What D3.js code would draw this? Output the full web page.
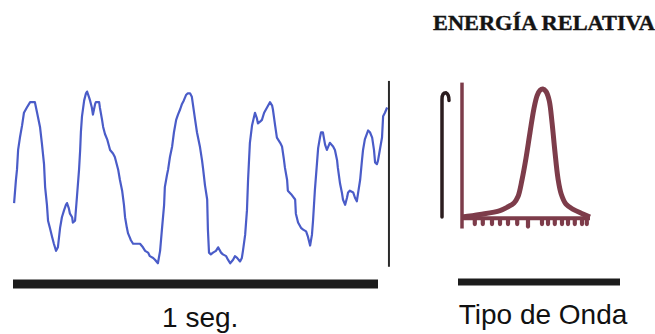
<!DOCTYPE html>
<html>
<head>
<meta charset="utf-8">
<script src="https://cdn.jsdelivr.net/npm/d3@7"></script>
<style>
  body { margin: 0; background: #fff; }
  svg { display: block; }
</style>
</head>
<body>
<div class="chart"></div>
<script>
// EEG-like trace, time in ms, amplitude in arbitrary units (0-100)
var waveTime = [
  3,8,11,14,19,25,30,38,47,55,
  60,66,74,79,85,88,93,96,101,107,
  112,118,123,129,134,140,145,148,153,156,
  162,164,170,175,181,184,186,189,195,200,
  203,208,211,216,219,225,227,236,238,244,
  247,252,258,266,274,279,288,293,299,304,
  307,312,315,321,323,329,340,348,356,362,
  370,375,384,389,397,403,408,414,416,422,
  425,430,436,441,447,452,458,463,468,474,
  479,485,490,499,504,512,518,521,526,532,
  534,537,542,548,556,562,570,575,584,589,
  595,603,608,614,622,627,630,636,641,644,
  649,655,663,668,671,677,682,688,696,704,
  710,712,718,723,732,737,742,745,751,753,
  762,773,775,781,789,795,803,808,814,819,
  822,827,833,836,841,844,849,855,860,866,
  868,877,882,888,890,896,901,904,910,915,
  918,923,932,937,942,945,951,956,959,964,
  973,978,984,989,992,997,1000,1005,1011,1014,
  1019,1025
];
var waveAmp = [
  35,48,54,65,72,79,86,89,92,92,
  92,86,78,69,57,44,34,25,21,16,
  12,8,10,21,27,31,34,35,32,29,
  27,24,25,38,54,65,75,84,93,97,
  98,95,93,89,85,91,92,92,89,82,
  78,74,71,65,63,61,54,48,42,34,
  27,21,18,15,14,12,12,12,10,8,
  7,5,4,3,1,8,20,34,44,51,
  54,61,67,75,82,85,88,91,93,96,
  97,97,95,82,75,67,59,54,45,37,
  20,7,6,7,8,10,7,6,5,3,
  1,3,5,4,2,4,8,17,31,48,
  69,79,86,83,80,81,82,86,89,92,
  90,88,79,72,69,67,60,55,48,42,
  40,37,29,24,21,20,19,16,11,17,
  25,42,58,66,72,75,75,68,65,68,
  69,67,65,59,55,46,41,37,34,38,
  41,42,41,38,36,40,48,59,65,71,
  76,75,72,65,58,57,59,65,72,84,
  86,89
];
var cursorTime = 1030;
var scaleBarMs = [0, 1000];

// relative energy spectrum (frequency Hz, relative energy 0-1)
var specFreq = [0, 2.25, 4.75, 5.75, 6.5, 7, 7.5, 8, 8.5, 9, 9.4, 9.75, 10.1, 10.5, 10.9, 11.25, 11.6, 12, 12.4, 13, 13.9, 14.9, 16];
var specEnergy = [0, 0.02, 0.05, 0.08, 0.11, 0.16, 0.29, 0.46, 0.66, 0.85, 0.95, 0.99, 1, 0.98, 0.91, 0.74, 0.52, 0.30, 0.18, 0.10, 0.06, 0.03, 0];
var toothFreq = [1.6, 2.6, 3.75, 4.75, 5.75, 6.9, 8.25, 10, 10.75, 11.6, 12.5, 13.25, 14.1, 15, 15.6];

var titleText = 'ENERGÍA RELATIVA';
var waveLabel = '1 seg.';
var specLabel = 'Tipo de Onda';

var width = 655, height = 334;

var svg = d3.select('.chart')
  .append('svg')
  .attr('width', width)
  .attr('height', height);

//----------------------------------------------------------- trace
var xScale = d3.scaleLinear().domain([0, 1000]).range([13, 378]);
var yScale = d3.scaleLinear().domain([0, 100]).range([265, 88]);

var wave = waveTime.map((t, i) => ({ t: t, v: waveAmp[i] }));

var line = d3.line()
  .x(d => xScale(d.t))
  .y(d => yScale(d.v));

svg.append('path')
  .datum(wave)
  .attr('d', line)
  .style('fill', 'none')
  .style('stroke', '#4a5cc8')
  .style('stroke-width', 2.2)
  .style('stroke-linejoin', 'round');

svg.append('line')
  .attr('x1', xScale(cursorTime)).attr('x2', xScale(cursorTime))
  .attr('y1', yScale(104)).attr('y2', yScale(-1))
  .style('stroke', '#2a2a2a')
  .style('stroke-width', 2);

svg.append('line')
  .attr('x1', xScale(scaleBarMs[0])).attr('x2', xScale(scaleBarMs[1]))
  .attr('y1', 284).attr('y2', 284)
  .style('stroke', '#1c1c1c')
  .style('stroke-width', 9);

svg.append('text')
  .attr('x', xScale(513))
  .attr('y', 327)
  .style('text-anchor', 'middle')
  .style('font-family', 'Liberation Sans, Arial, sans-serif')
  .style('font-size', '28px')
  .style('fill', '#111')
  .text(waveLabel);

//----------------------------------------------------------- spectrum
var fScale = d3.scaleLinear().domain([0, 16]).range([462, 590]);
var eScale = d3.scaleLinear().domain([0, 1]).range([217, 89]);
var brown = '#7d3c4a';

svg.append('line')
  .attr('x1', fScale(0)).attr('x2', fScale(0))
  .attr('y1', eScale(1.05)).attr('y2', eScale(-0.09))
  .style('stroke', brown)
  .style('stroke-width', 3.5);

svg.append('line')
  .attr('x1', fScale(0)).attr('x2', fScale(16))
  .attr('y1', eScale(-0.01)).attr('y2', eScale(-0.01))
  .style('stroke', brown)
  .style('stroke-width', 4);

svg.selectAll('.tooth')
  .data(toothFreq)
  .enter()
  .append('line')
  .attr('class', 'tooth')
  .attr('x1', d => fScale(d)).attr('x2', d => fScale(d))
  .attr('y1', eScale(-0.02))
  .attr('y2', (d, i) => eScale(i === 6 ? -0.075 : -0.055))
  .style('stroke', brown)
  .style('stroke-width', 4.2)
  .style('stroke-linecap', 'round');

var spec = specFreq.map((f, i) => ({ f: f, e: specEnergy[i] }));
var specLine = d3.line()
  .x(d => fScale(d.f))
  .y(d => eScale(d.e))
  .curve(d3.curveCatmullRom.alpha(0.5));

svg.append('path')
  .datum(spec)
  .attr('d', specLine)
  .style('fill', 'none')
  .style('stroke', brown)
  .style('stroke-width', 5)
  .style('stroke-linejoin', 'round');

// hooked arrow next to the energy axis
var hx = fScale(-2.5);
var hook = d3.path();
hook.moveTo(hx, eScale(0));
hook.lineTo(hx, eScale(0.92));
hook.quadraticCurveTo(hx, eScale(0.97), hx + 4, eScale(0.97));
hook.quadraticCurveTo(hx + 7, eScale(0.96), hx + 7, eScale(0.91));
svg.append('path')
  .attr('d', hook.toString())
  .style('fill', 'none')
  .style('stroke', '#2b1d1f')
  .style('stroke-width', 3.5)
  .style('stroke-linecap', 'round');

svg.append('line')
  .attr('x1', fScale(-0.5)).attr('x2', fScale(19.75))
  .attr('y1', 282).attr('y2', 282)
  .style('stroke', '#1c1c1c')
  .style('stroke-width', 7);

svg.append('text')
  .attr('x', 544)
  .attr('y', 30)
  .attr('textLength', 222)
  .attr('lengthAdjust', 'spacingAndGlyphs')
  .style('text-anchor', 'middle')
  .style('font-family', 'Liberation Serif, Times New Roman, serif')
  .style('font-weight', 'bold')
  .style('font-size', '21px')
  .style('fill', '#141414')
  .style('stroke', '#141414')
  .style('stroke-width', 0.4)
  .text(titleText);

svg.append('text')
  .attr('x', 543)
  .attr('y', 324)
  .style('text-anchor', 'middle')
  .style('font-family', 'Liberation Sans, Arial, sans-serif')
  .style('font-size', '28px')
  .style('fill', '#111')
  .text(specLabel);
</script>
</body>
</html>
